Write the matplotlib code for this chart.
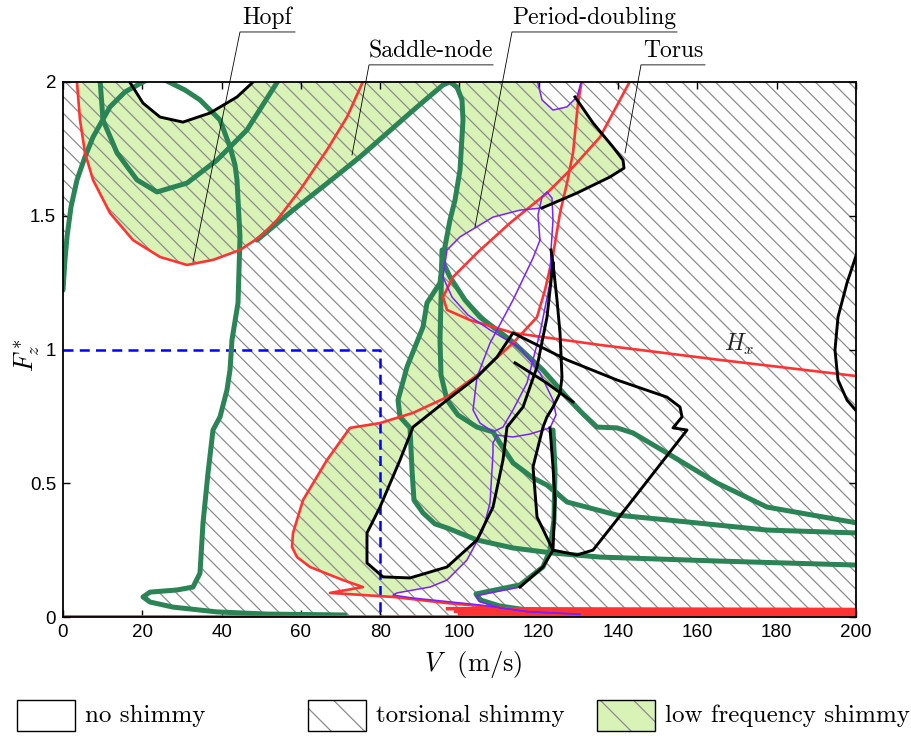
import numpy as np
import matplotlib.pyplot as plt
from matplotlib.patches import Rectangle, Polygon
from matplotlib.ticker import FormatStrFormatter

plt.rcParams['mathtext.fontset'] = 'cm'
plt.rcParams['font.family'] = ['Liberation Sans', 'DejaVu Sans']
plt.rcParams['hatch.linewidth'] = 0.9
plt.rcParams['axes.unicode_minus'] = False

SERIF = 'cmr10'
HATCH = '\\\\'
HATCH_LEG = '\\'
HATCH_GRAY = '#8c8c8c'
GREEN_FILL = '#d9f3b6'
C_SN = '#2b8456'
C_HOPF = '#ff3333'
C_PD = '#7b1fff'
C_TR = 'black'

# ---- Hopf curves (V in m/s, dimensionless load F_z^*) ----
hopf_a_V = [3.4, 4.29, 5.55, 7.57, 11.85, 17.65, 24.46, 31.27, 37.83, 44.64, 49.68, 53.97, 59.77, 66.58, 71.63, 76.5]
hopf_a_F = [2.02, 1.858, 1.735, 1.634, 1.510, 1.409, 1.346, 1.316, 1.335, 1.372, 1.421, 1.484, 1.596, 1.746, 1.869, 2.03]

hopf_b_V = [130.90, 129.89, 128.63, 127.11, 125.35, 123.58, 121.56, 119.55, 113.49, 105.17, 96.85, 88.27, 79.95, 72.38,
            66.58, 60.53, 58.01, 57.75, 59.02, 62.30, 70.62, 75.66, 67.34, 83.23, 96.85, 117.02, 135.44, 200.5]
hopf_b_F = [2.01, 1.921, 1.735, 1.622, 1.510, 1.353, 1.222, 1.121, 1.024, 0.912, 0.822, 0.763, 0.725, 0.707,
            0.587, 0.437, 0.314, 0.262, 0.224, 0.187, 0.138, 0.112, 0.090, 0.075, 0.052, 0.026, 0.019, 0.019]

# this branch turns into the H_x line on the right
hopf_c_V = [143.25, 135.44, 128.63, 122.07, 112.74, 104.41, 98.36, 95.84, 96.85, 102.65, 113.49, 135.44, 165.70, 200.5]
hopf_c_F = [2.01, 1.794, 1.682, 1.585, 1.473, 1.361, 1.271, 1.196, 1.148, 1.110, 1.062, 1.017, 0.961, 0.90]

hopf_floor_V = [0, 200]
hopf_floor_F = [0.003, 0.003]
hopf_low1_V = [97, 200]
hopf_low1_F = [0.031, 0.028]
hopf_low2_V = [99, 200]
hopf_low2_F = [0.021, 0.018]
hopf_low3_V = [100, 200]
hopf_low3_F = [0.011, 0.008]

# ---- saddle-node curves ----
sn_a_V = [0, 0.50, 1.01, 2.02, 3.53, 5.55, 7.57, 11.85, 15.64, 20.18, 22.70, 25.73, 30.77, 34.55, 39.60, 42.12,
          43.38, 43.88, 44.64, 44.39, 44.14, 42.62, 42.12, 41.36, 39.60, 37.83, 36.57, 35.31, 34.55, 32.79, 28.75,
          21.94, 20.18, 21.94, 27.74, 38.84, 51.45, 71.12]
sn_a_F = [1.222, 1.335, 1.421, 1.533, 1.634, 1.720, 1.794, 1.907, 1.963, 2.0, 2.019, 2.007, 1.970, 1.933, 1.858, 1.757,
          1.690, 1.634, 1.421, 1.297, 1.174, 1.036, 0.923, 0.849, 0.748, 0.699, 0.538, 0.351, 0.164, 0.112, 0.101,
          0.093, 0.075, 0.056, 0.037, 0.019, 0.011, 0.0075]

sn_b_V = [9.33, 10.09, 13.62, 18.66, 23.71, 31.27, 38.84, 46.41, 54.48]
sn_b_F = [2.01, 1.858, 1.735, 1.634, 1.589, 1.622, 1.708, 1.821, 2.01]

sn_c_V = [48.93, 53.47, 58.01, 66.08, 74.91, 81.21, 87.52, 92.56, 95.84, 97.60, 99.37, 100.63, 100.88, 100.13, 98.87,
          97.60, 95.84, 95.08, 91.80, 90.79, 86.76, 84.49, 85.00, 87.52, 88.02, 88.52, 90.79, 93.82, 96.85, 104.41,
          113.49, 123.58, 135.44, 165.70, 200.5]
sn_c_F = [1.409, 1.465, 1.521, 1.615, 1.720, 1.802, 1.884, 1.948, 1.989, 2.000, 1.981, 1.933, 1.858, 1.671, 1.559,
          1.484, 1.346, 1.249, 1.174, 1.084, 0.935, 0.811, 0.748, 0.707, 0.550, 0.437, 0.389, 0.348, 0.333, 0.288,
          0.258, 0.239, 0.224, 0.209, 0.194]

sn_d_V = [95.59, 95.33, 95.08, 95.33, 96.85, 99.62, 104.41, 108.45, 110.21, 113.49, 118.54, 122.07, 127.11, 139.72,
          152.33, 177.55, 200.5]
sn_d_F = [1.372, 1.185, 1.036, 0.905, 0.811, 0.755, 0.710, 0.692, 0.650, 0.576, 0.520, 0.493, 0.430, 0.381,
          0.363, 0.325, 0.314]

sn_e_V = [95.84, 97.60, 101.39, 105.17, 113.49, 121.06, 127.11, 130.90, 134.68, 139.72, 143.76, 152.33, 164.94,
          177.55, 200.5]
sn_e_F = [1.327, 1.271, 1.185, 1.121, 1.028, 0.923, 0.822, 0.763, 0.710, 0.707, 0.688, 0.613, 0.501, 0.411, 0.351]

sn_f_V = [123.58, 124.09, 123.83, 122.82, 121.06, 115.26, 107.69, 104.16, 105.17, 110.21, 117.02, 130.39]
sn_f_F = [0.699, 0.550, 0.363, 0.250, 0.187, 0.120, 0.097, 0.086, 0.064, 0.041, 0.026, 0.015]

# ---- period-doubling curves ----
pd_a_V = [119.55, 120.81, 123.58, 127.11, 129.63, 130.90]
pd_a_F = [2.01, 1.933, 1.895, 1.907, 1.944, 2.01]

pd_b_V = [120.81, 115.26, 108.45, 100.13, 96.85, 95.84, 98.11, 102.14, 107.69, 115.26, 120.30, 123.58, 124.34, 122.82,
          117.78, 113.49, 109.46, 108.45, 108.45, 107.69, 105.93, 101.89, 96.85, 92.56, 84.24, 83.23, 88.27, 105.17,
          117.78, 130.39]
pd_b_F = [1.529, 1.521, 1.495, 1.421, 1.372, 1.271, 1.196, 1.129, 1.073, 1.006, 0.912, 0.811, 0.755, 0.707,
          0.684, 0.673, 0.680, 0.650, 0.613, 0.426, 0.325, 0.213, 0.138, 0.112, 0.090, 0.082, 0.071, 0.045,
          0.019, 0.011]

pd_c_V = [120.30, 119.80, 120.81, 122.07, 123.33, 123.58, 123.08, 122.82, 120.30, 117.02, 113.49, 110.97, 108.45,
          105.17, 103.41, 104.41, 107.69, 113.49, 118.54, 120.30]
pd_c_F = [1.409, 1.503, 1.570, 1.589, 1.566, 1.484, 1.372, 1.249, 1.062, 0.875, 0.774, 0.710, 0.692,
          0.725, 0.774, 0.897, 1.024, 1.185, 1.342, 1.409]

pd_d_V = [115.26, 107.69, 104.16, 105.17, 110.21, 117.02, 130.39]
pd_d_F = [0.112, 0.090, 0.079, 0.057, 0.034, 0.020, 0.010]

# ---- torus curves ----
tr_a_V = [16.39, 20.18, 24.46, 30.26, 37.07, 43.88, 48.68]
tr_a_F = [2.01, 1.921, 1.869, 1.850, 1.884, 1.944, 2.01]

tr_b_V = [129.13, 133.67, 138.71, 141.24, 141.49, 137.96, 129.63, 120.81]
tr_b_F = [1.944, 1.847, 1.757, 1.708, 1.678, 1.645, 1.585, 1.529]

tr_c_V = [123.08, 123.58, 124.59, 125.35, 125.85, 125.35, 123.58, 122.07, 121.06, 118.54, 119.55, 123.58, 129.63,
          133.67, 142.24, 157.38, 153.85, 156.12, 155.61, 152.33, 139.72, 127.11, 113.49, 109.46, 104.41, 96.85,
          88.27, 85.00, 79.95, 76.67, 76.67, 80.71, 87.52, 96.85, 104.41, 108.45, 110.97, 111.98, 116.02, 119.55,
          122.07, 123.58]
tr_c_F = [1.372, 1.323, 1.185, 1.062, 0.897, 0.837, 0.785, 0.748, 0.710, 0.561, 0.374, 0.250, 0.232,
          0.250, 0.411, 0.699, 0.707, 0.748, 0.785, 0.822, 0.886, 0.961, 1.062, 0.972, 0.897, 0.811,
          0.710, 0.587, 0.411, 0.314, 0.202, 0.150, 0.146, 0.187, 0.288, 0.411, 0.587, 0.710, 0.785, 0.935,
          1.121, 1.323]

tr_d_V = [122.82, 123.58, 124.09, 123.58, 121.06, 115.26]
tr_d_F = [0.707, 0.561, 0.437, 0.250, 0.187, 0.112]

tr_e_V = [114.00, 121.56, 128.63]
tr_e_F = [0.950, 0.879, 0.804]

tr_f_V = [200.5, 197.73, 195.46, 194.70, 195.46, 197.73, 200.5]
tr_f_F = [1.372, 1.249, 1.121, 0.998, 0.886, 0.811, 0.763]

# nominal operating envelope
box_V = [0, 80, 80]
box_F = [1, 1, 0]


def pts(v, f, sl=slice(None)):
    return list(zip(np.asarray(v)[sl], np.asarray(f)[sl]))


fig = plt.figure(figsize=(9.12, 7.36), dpi=100)
ax = fig.add_axes([63 / 912, 1 - 617 / 736, 793 / 912, 535 / 736])
ax.set_xlim(0, 200)
ax.set_ylim(0, 2)

# torsional shimmy everywhere by default
ax.add_patch(Rectangle((0, 0), 200, 2, facecolor='white', edgecolor=HATCH_GRAY, lw=0, hatch=HATCH, zorder=0.5))

# low frequency shimmy regions
green_regions = [
    pts(hopf_a_V, hopf_a_F, slice(0, 10)) + pts(sn_c_V, sn_c_F, slice(0, 10)) + [(97.6, 2.05), (3.4, 2.05)],
    [(97.6, 2.05), (119.55, 2.05)] + pts(pd_a_V, pd_a_F, slice(0, 5)) + pts(tr_b_V, tr_b_F)
    + pts(pd_b_V, pd_b_F, slice(1, 5)) + pts(sn_c_V, sn_c_F, slice(15, 9, -1)),
    pts(sn_e_V, sn_e_F, slice(0, 7)) + pts(tr_c_V, tr_c_F, slice(5, 12)) + pts(sn_c_V, sn_c_F, slice(31, 15, -1)),
    pts(sn_c_V, sn_c_F, slice(22, 23)) + pts(hopf_b_V, hopf_b_F, slice(12, 24))
    + pts(pd_b_V, pd_b_F, slice(24, 19, -1)) + pts(tr_c_V, tr_c_F, slice(34, 25, -1)),
]
for poly in green_regions:
    ax.add_patch(Polygon(poly, closed=True, facecolor=GREEN_FILL, edgecolor=HATCH_GRAY, lw=0,
                         hatch=HATCH, zorder=1))

# no shimmy regions
white_regions = [
    [(0, 0)] + pts(sn_a_V, sn_a_F, slice(0, 6)) + pts(hopf_a_V, hopf_a_F, slice(2, 10))
    + pts(sn_a_V, sn_a_F, slice(19, None)) + [(sn_a_V[-1], 0)],
    pts(tr_a_V, tr_a_F),
]
for poly in white_regions:
    ax.add_patch(Polygon(poly, closed=True, facecolor='white', edgecolor='none', lw=0, zorder=1.2))

ax.plot(box_V, box_F, color='#0000ff', lw=1.8, ls=(0, (4, 2.5)), zorder=2.5)

for v, f in [(sn_a_V, sn_a_F), (sn_b_V, sn_b_F), (sn_c_V, sn_c_F), (sn_d_V, sn_d_F),
             (sn_e_V, sn_e_F), (sn_f_V, sn_f_F)]:
    ax.plot(v, f, color=C_SN, lw=3.6, solid_joinstyle='round', solid_capstyle='round', zorder=3)

for v, f in [(hopf_a_V, hopf_a_F), (hopf_b_V, hopf_b_F), (hopf_c_V, hopf_c_F), (hopf_floor_V, hopf_floor_F)]:
    ax.plot(v, f, color=C_HOPF, lw=1.9, solid_joinstyle='round', zorder=4)
# the Hopf branches bunched up along the axis
for v, f in [(hopf_low1_V, hopf_low1_F), (hopf_low2_V, hopf_low2_F), (hopf_low3_V, hopf_low3_F)]:
    ax.plot(v, f, color=C_HOPF, lw=2.6, zorder=4)

for v, f in [(pd_a_V, pd_a_F), (pd_b_V, pd_b_F), (pd_c_V, pd_c_F), (pd_d_V, pd_d_F)]:
    ax.plot(v, f, color=C_PD, lw=1.1, solid_joinstyle='round', zorder=5)

for v, f in [(tr_a_V, tr_a_F), (tr_b_V, tr_b_F), (tr_c_V, tr_c_F), (tr_d_V, tr_d_F),
             (tr_e_V, tr_e_F), (tr_f_V, tr_f_F)]:
    ax.plot(v, f, color=C_TR, lw=2.1, solid_joinstyle='round', zorder=6)

ax.text(170.5, 1.017, r'$H_x$', fontsize=17, color='#222222', ha='center', va='center', zorder=7)

# labels with leader lines above the frame
labels = [
    ('Hopf', (32.79, 1.327), 44.64, 58.51, 2.187),
    ('Saddle-node', (72.89, 1.727), 77.18, 108.45, 2.064),
    ('Period-doubling', (103.91, 1.458), 113.24, 154.86, 2.187),
    ('Torus', (141.74, 1.735), 145.78, 161.92, 2.064),
]
for name, (tv, tf), v0, v1, fl in labels:
    ax.plot([tv, v0, v1], [tf, fl, fl], color='black', lw=0.6, clip_on=False, zorder=8)
    ax.text((v0 + v1) / 2, fl + 0.028, name, family=SERIF, fontsize=17, ha='center', va='baseline')

ax.set_xticks(range(0, 201, 20))
ax.set_yticks([0, 0.5, 1, 1.5, 2])
ax.yaxis.set_major_formatter(FormatStrFormatter('%g'))
ax.tick_params(direction='in', length=5, width=1, top=True, right=True, labelsize=13.5, pad=5)
for sp in ax.spines.values():
    sp.set_linewidth(1.3)
    sp.set_zorder(10)

ax.set_xlabel(r'$V$  (m/s)', family=SERIF, fontsize=19)
ax.xaxis.set_label_coords(0.517, -0.06)
ax.set_ylabel(r'$F_z^*$', fontsize=19)
ax.yaxis.set_label_coords(-0.027, 0.49)

# legend drawn along the bottom of the figure
legend_items = [
    (17, 'white', None, 'no shimmy'),
    (308, 'white', HATCH_LEG, 'torsional shimmy'),
    (597, GREEN_FILL, HATCH_LEG, 'low frequency shimmy'),
]
for x0, fc, hatch, name in legend_items:
    fig.add_artist(Rectangle((x0 / 912, 5 / 736), 58 / 912, 31 / 736, transform=fig.transFigure,
                             facecolor=fc, edgecolor='none', lw=0))
    if hatch:
        fig.add_artist(Rectangle((x0 / 912, 5 / 736), 58 / 912, 31 / 736, transform=fig.transFigure,
                                 facecolor='none', edgecolor=HATCH_GRAY, lw=0, hatch=hatch))
    fig.add_artist(Rectangle((x0 / 912, 5 / 736), 58 / 912, 31 / 736, transform=fig.transFigure,
                             facecolor='none', edgecolor='black', lw=1.0))
    fig.text((x0 + 68) / 912, 20 / 736, name, family=SERIF, fontsize=18, ha='left', va='center')

fig.savefig('out.png', dpi=100)
